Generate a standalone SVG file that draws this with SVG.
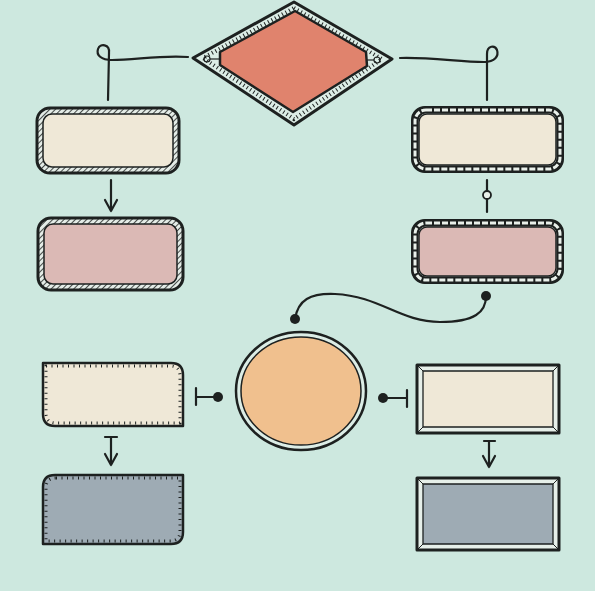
<svg xmlns="http://www.w3.org/2000/svg" width="595" height="591" viewBox="0 0 595 591">
<style>
.ln{fill:none;stroke:#1d2120;stroke-width:2.2;stroke-linecap:round;stroke-linejoin:round}
.dk{stroke:#1d2120;stroke-linejoin:round}
.dot{fill:#1d2120}
.band{fill:none;stroke:#1d2120;stroke-width:7}
.dash{fill:none;stroke:#e9f0ea;stroke-width:3;stroke-dasharray:6 2}
.tick{fill:none;stroke:#1d2120;stroke-width:4;stroke-dasharray:1 3}
.tick2{fill:none;stroke:#1d2120;stroke-width:3;stroke-dasharray:1 4.5}
</style>
<defs>
<pattern id="hatch" patternUnits="userSpaceOnUse" width="4" height="4" patternTransform="rotate(45)">
<rect width="4" height="4" fill="#e4ece7"/>
<line x1="0" y1="0" x2="0" y2="4" stroke="#1d2120" stroke-width="1.6"/>
</pattern>
</defs>
<rect width="595" height="591" fill="#cde8df"/>

<g id="connectors">
<path class="ln" d="M188,57 C160,55 135,60 112,60 C101,60 96,55 98,49 C100,43 110,44 109,53 L108,100"/>
<path class="ln" d="M400,58 C430,57 460,62 484,62 C495,62 499,56 497,50 C495,45 487,45 487,54 L487,100"/>
<path class="ln" d="M111,180 L111,211 M105,200 L111,211 L117,200"/>
<path class="ln" d="M487,180 L487,191 M487,199 L487,212"/>
<circle cx="487" cy="195" r="4" fill="#e9f0ea" stroke="#1d2120" stroke-width="1.8"/>
<path class="ln" d="M295,319 C298,300 310,293 335,294 C380,296 400,322 440,322 C475,322 486,312 486,296"/>
<circle class="dot" cx="295" cy="319" r="5"/>
<circle class="dot" cx="486" cy="296" r="5"/>
<path class="ln" d="M196,388 L196,405 M196,397 L218,397"/>
<circle class="dot" cx="218" cy="397" r="5"/>
<path class="ln" d="M407,390 L407,407 M407,398 L383,398"/>
<circle class="dot" cx="383" cy="398" r="5"/>
<path class="ln" d="M105,437 L117,437 M111,437 L111,465 M105,454 L111,465 L117,454"/>
<path class="ln" d="M484,441 L495,441 M489,441 L489,467 M483,456 L489,467 L495,456"/>
</g>

<g id="diamond">
<polygon points="294,2 392,59 294,125 193,58" fill="#dcede6" class="dk" stroke-width="3"/>
<polygon points="294,8 382,59 294,119 203,58" class="tick"/>
<polygon points="220,52 295,11 366,52 367,66 293,112 220,65" fill="#e0836d" class="dk" stroke-width="2.5"/>
<circle cx="207" cy="59" r="3" fill="none" stroke="#1d2120" stroke-width="1.2"/>
<line x1="210" y1="59" x2="220" y2="59" stroke="#1d2120" stroke-width="1.2"/>
<circle cx="377" cy="60" r="3" fill="none" stroke="#1d2120" stroke-width="1.2"/>
<line x1="367" y1="60" x2="374" y2="60" stroke="#1d2120" stroke-width="1.2"/>
</g>

<g id="box-top-left">
<rect x="37" y="108" width="142" height="65" rx="13" fill="url(#hatch)" class="dk" stroke-width="3"/>
<rect x="43" y="114" width="130" height="53" rx="9" fill="#efe8d7" class="dk" stroke-width="1.5"/>
</g>

<g id="box-mid-left">
<rect x="38" y="218" width="145" height="72" rx="13" fill="url(#hatch)" class="dk" stroke-width="3"/>
<rect x="44" y="224" width="133" height="60" rx="9" fill="#dbb9b5" class="dk" stroke-width="1.5"/>
</g>

<g id="box-top-right">
<rect x="412" y="107" width="151" height="65" rx="13" fill="#e9f0ea" class="dk" stroke-width="2"/>
<rect x="415" y="110" width="145" height="59" rx="11" class="band"/>
<rect x="415" y="110" width="145" height="59" rx="11" class="dash"/>
<rect x="419" y="114" width="137" height="51" rx="8" fill="#efe8d7" class="dk" stroke-width="1.5"/>
</g>

<g id="box-mid-right">
<rect x="412" y="220" width="151" height="63" rx="13" fill="#e9f0ea" class="dk" stroke-width="2"/>
<rect x="415" y="223" width="145" height="57" rx="11" class="band"/>
<rect x="415" y="223" width="145" height="57" rx="11" class="dash"/>
<rect x="419" y="227" width="137" height="49" rx="8" fill="#dbb9b5" class="dk" stroke-width="1.5"/>
</g>

<g id="circle">
<ellipse cx="301" cy="391" rx="65" ry="59" fill="#dcede6" class="dk" stroke-width="2.5"/>
<ellipse cx="301" cy="391" rx="60" ry="54" fill="#f0c08e" class="dk" stroke-width="1.5"/>
</g>

<g id="box-bottom-left-1">
<path d="M43,363 L171,363 Q183,363 183,375 L183,426 L55,426 Q43,426 43,414 Z" fill="#efe8d7" class="dk" stroke-width="2.5"/>
<path d="M46,366 L170,366 Q180,366 180,376 L180,423 L56,423 Q46,423 46,413 Z" class="tick2"/>
</g>

<g id="box-bottom-left-2">
<path d="M55,475 L183,475 L183,532 Q183,544 171,544 L43,544 L43,487 Q43,475 55,475 Z" fill="#9eabb4" class="dk" stroke-width="2.5"/>
<path d="M56,478 L180,478 L180,531 Q180,541 170,541 L46,541 L46,488 Q46,478 56,478 Z" class="tick2"/>
</g>

<g id="box-bottom-right-1">
<rect x="417" y="365" width="142" height="68" fill="#e6efe9" class="dk" stroke-width="3"/>
<rect x="423" y="371" width="130" height="56" fill="#efe8d7" class="dk" stroke-width="1.3"/>
<path d="M417,365 L423,371 M559,365 L553,371 M559,433 L553,427 M417,433 L423,427" stroke="#1d2120" stroke-width="1"/>
</g>

<g id="box-bottom-right-2">
<rect x="417" y="478" width="142" height="72" fill="#e6efe9" class="dk" stroke-width="3"/>
<rect x="423" y="484" width="130" height="60" fill="#9eabb4" class="dk" stroke-width="1.3"/>
<path d="M417,478 L423,484 M559,478 L553,484 M559,550 L553,544 M417,550 L423,544" stroke="#1d2120" stroke-width="1"/>
</g>
</svg>
